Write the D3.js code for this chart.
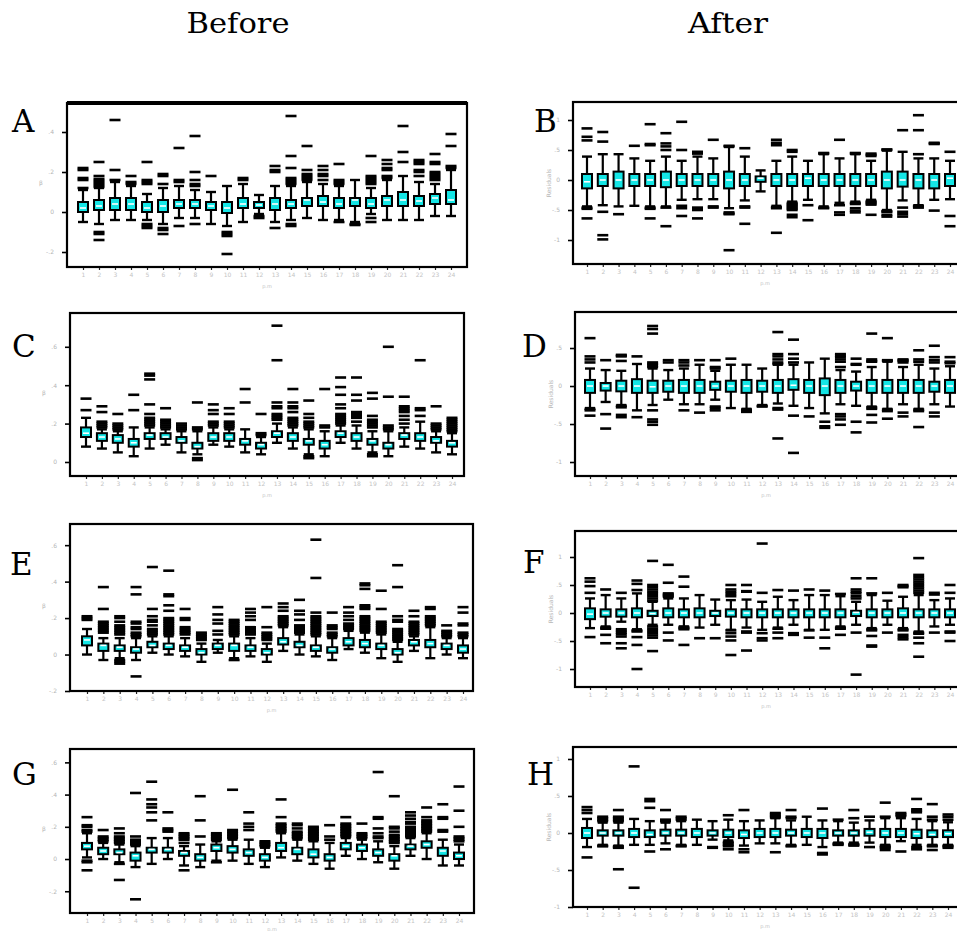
<!DOCTYPE html>
<html>
<head>
<meta charset="utf-8">
<script src="https://cdn.jsdelivr.net/npm/d3@7"></script>
<style>
  body { margin: 0; background: #fff; }
</style>
</head>
<body>
<div id="chart"></div>
<script>
// categories on the x axis (1..24)
const categories = d3.range(1, 25);

// each row: [lower whisker, q1, median, q3, upper whisker]
const boxA = [
  [-.05,0,.02,.05,.11],[-.06,.01,.03,.06,.12],[-.04,.01,.04,.07,.15],[-.04,.01,.04,.07,.13],
  [-.04,0,.02,.05,.09],[-.06,0,.03,.06,.12],[-.03,.02,.04,.06,.13],[-.03,.02,.04,.06,.11],
  [-.06,.01,.03,.05,.1],[-.07,-.005,.02,.05,.13],[-.05,.02,.04,.07,.14],[-.01,.02,.035,.05,.085],
  [-.05,.01,.04,.07,.13],[-.04,.02,.04,.06,.13],[-.03,.03,.06,.07,.15],[-.04,.03,.05,.08,.14],
  [-.04,.02,.04,.07,.13],[-.05,.03,.06,.07,.16],[-.01,.02,.04,.07,.12],[-.04,.03,.06,.08,.16],
  [-.04,.03,.06,.1,.18],[-.04,.03,.055,.08,.15],[-.02,.04,.07,.09,.14],[-.02,.04,.06,.11,.21]
];
const outA = [
  [.22,.21,.17,.16,.12],[.25,.18,.165,.155,.145,.135,.125,-.1,-.11,-.14],[.46,.21,.16],[.18,.15,.14],
  [.25,.16,.15,.14,-.06,-.07,-.08],[.19,.18,.14,-.08,-.09,-.11],[.32,.16,.15,-.07],[.38,.2,.16,.14,.13,-.06],
  [.18],[-.1,-.11,-.12,-.21],[.17,.16],[-.02,-.03],
  [.23,.21,.2,-.08],[.48,.28,.22,.17,.16,.15,.14,-.06,-.07],[.33,.21,.19,.18,.17,.16],[.23,.21,.19,.18,.16],
  [.24,.16,.15,.14,-.05],[-.06,-.065],[.28,.18,.17,.16,.15,.14,-.03,-.05],[.26,.24,.22,.21,.18,.17],
  [.43,.3,.25],[.26,.25,.24,.21,.2,.18],[.29,.25,.24,.2,.19,.18,.17,.16],[.39,.33,.23,.22]
];

const boxB = [
  [-.44,-.14,-.03,.1,.39],[-.42,-.1,0,.1,.43],[-.44,-.14,0,.14,.43],[-.43,-.1,0,.1,.36],
  [-.44,-.1,0,.1,.32],[-.44,-.12,0,.14,.39],[-.33,-.1,0,.1,.32],[-.32,-.1,0,.1,.39],
  [-.32,-.1,0,.1,.36],[-.47,-.14,0,.14,.55],[-.34,-.1,0,.1,.39],[-.19,-.03,.03,.06,.16],
  [-.43,-.1,0,.1,.32],[-.36,-.1,0,.1,.39],[-.33,-.1,.03,.1,.32],[-.44,-.1,0,.1,.43],
  [-.38,-.1,0,.1,.36],[-.36,-.1,0,.1,.43],[-.33,-.1,0,.1,.32],[-.5,-.14,0,.14,.49],
  [-.34,-.11,0,.14,.47],[-.42,-.14,0,.1,.36],[-.33,-.14,0,.1,.36],[-.32,-.1,.03,.1,.32]
];
const outB = [
  [.86,.72,.66,-.46,-.48,-.64],[.8,.64,-.53,-.92,-.99],[-.57],[.57],
  [.93,.6,.58,-.46,-.48,-.64],[.78,.61,.56,.5,-.46,-.77],[.97,.5,-.43,-.47,-.6],[.47,.44,-.46,-.48,-.5,-.64],
  [.67,-.44,-.46],[.57,.56,-.54,-.56,-.57,-1.17],[.53,-.44,-.46,-.73],[],
  [.67,.62,.58,-.45,-.47,-.88],[.5,.47,-.38,-.4,-.42,-.44,-.46,-.48,-.5,-.58,-.62],[-.42,-.67],[.44,.45,-.46,-.47],
  [.67,-.42,-.54,-.58],[.44,.45,-.38,-.4,-.47,-.51,-.54],[.42,.4,.44,-.35,-.37,-.39,-.41,-.58],[.5,.51,-.52,-.53,-.58,-.61],
  [.83,-.46,-.53,-.57,-.61],[1.08,.83,.43,-.43,-.44,-.46],[.61,.6,.62,-.51],[.47,-.6,-.77]
];

const boxC = [
  [.08,.13,.15,.18,.23],[.07,.11,.13,.15,.17],[.05,.1,.12,.14,.16],[.03,.08,.1,.12,.18],
  [.07,.12,.14,.15,.18],[.09,.12,.13,.15,.17],[.05,.1,.11,.13,.16],[.04,.07,.08,.1,.16],
  [.09,.11,.13,.15,.18],[.08,.11,.13,.15,.17],[.05,.09,.11,.12,.17],[.04,.07,.09,.1,.13],
  [.1,.13,.15,.16,.2],[.07,.11,.13,.15,.18],[.04,.09,.11,.12,.17],[.03,.07,.09,.11,.16],
  [.1,.13,.15,.16,.19],[.07,.11,.13,.15,.19],[.05,.09,.11,.12,.16],[.03,.07,.09,.1,.16],
  [.08,.12,.14,.15,.18],[.07,.11,.13,.15,.21],[.05,.1,.11,.13,.16],[.04,.08,.1,.11,.15]
];
const outC = [
  [.33,.27],[.29,.26,.21,.2,.19,.18],[.25,.2,.19,.18,.17],[.35,.27],
  [.46,.45,.43,.3,.25,.23,.22,.21,.2,.19],[.28,.22,.21,.2,.19,.18],[.2,.19,.18,.17],[.31,.18,.17,.02,.01],
  [.3,.27,.25,.21,.2,.19],[.28,.25,.21,.2,.19,.18],[.38,.31],[.25,.15,.14],
  [.71,.53,.31,.29,.28,.25,.24,.23,.22],[.38,.31,.29,.28,.26,.23,.22,.21,.2,.19],[.32,.25,.23,.21,.2,.19,.18,.03,.02],[.38,.19,.18],
  [.44,.39,.35,.3,.28,.25,.24,.23,.22,.21,.2],[.44,.35,.32,.26,.25,.24,.23,.21],[.36,.33,.24,.22,.21,.2,.19,.18,.04,.03],[.6,.34,.19,.18,.17],
  [.34,.29,.28,.27,.26,.24,.22,.2],[.53,.28,.27,.24],[.29,.2,.19,.18,.17],[.23,.22,.21,.2,.19,.18,.17,.16]
];

const boxD = [
  [-.29,-.09,0,.08,.23],[-.21,-.06,0,.04,.21],[-.25,-.07,0,.07,.2],[-.32,-.09,0,.09,.29],
  [-.25,-.09,-.01,.07,.23],[-.18,-.075,0,.07,.21],[-.24,-.09,0,.08,.23],[-.24,-.09,0,.08,.28],
  [-.18,-.05,0,.057,.2],[-.29,-.075,0,.07,.28],[-.3,-.09,0,.08,.28],[-.25,-.075,0,.07,.23],
  [-.23,-.09,0,.08,.28],[-.26,-.05,.01,.09,.28],[-.29,-.09,0,.08,.31],[-.36,-.12,0,.1,.36],
  [-.24,-.09,0,.08,.21],[-.26,-.06,0,.057,.19],[-.27,-.09,0,.08,.25],[-.3,-.09,0,.08,.32],
  [-.24,-.09,0,.08,.25],[-.3,-.09,0,.08,.28],[-.24,-.075,0,.057,.23],[-.27,-.09,0,.08,.26]
];
const outD = [
  [.63,.39,.35,.31,-.3,-.32,-.39],[.34,-.37,-.56],[.41,.4,.39,.33,-.26,-.28,-.38,-.41],[.39,-.41],
  [.79,.75,.69,.31,.29,.27,.25,-.32,-.44,-.47,-.51],[.34,.31],[.34,.31,.27,-.32],[.34,-.35],
  [.34,.25,.23,-.27,-.29,-.32],[.36],[-.31,-.33,-.34],[-.26,-.27],
  [.71,.42,.39,.35,.31,.29,-.29,-.31,-.69],[.61,.42,.36,.31,-.39,-.88],[-.4],[-.47,-.53,-.55],
  [.42,.4,.38,.35,.32,.25,-.37,-.4,-.44,-.51],[.36,.29,.28,-.47,-.61],[.69,.35,.33,.32,-.28,-.3,-.38,-.48],[.63,.33,.34,-.31,-.33,-.43],
  [.35,.34,.33,.31,-.35,-.4],[.47,.35,.32,-.31,-.33,-.54],[.53,.38,.34,.31,-.35,-.4],[.38,.32,.3]
];

const boxE = [
  [0,.05,.08,.1,.14],[-.03,.02,.05,.06,.09],[-.02,.02,.04,.05,.09],[-.03,.01,.03,.04,.09],
  [.01,.04,.05,.07,.1],[0,.03,.05,.06,.1],[-.01,.02,.04,.05,.09],[-.04,0,.01,.03,.06],
  [.01,.03,.05,.06,.08],[-.02,.02,.05,.06,.1],[-.01,.02,.04,.05,.09],[-.04,0,.01,.03,.06],
  [.02,.055,.07,.09,.15],[0,.04,.05,.07,.11],[-.01,.02,.04,.05,.1],[-.03,.01,.03,.04,.09],
  [.03,.05,.07,.09,.13],[.01,.04,.06,.08,.12],[-.02,.03,.05,.06,.11],[-.04,0,.01,.03,.07],
  [.02,.05,.07,.08,.1],[-.02,.04,.06,.08,.15],[0,.03,.05,.06,.09],[-.02,.01,.03,.05,.09]
];
const outE = [
  [.21,.2,.19],[.37,.25,.18,.17,.16,.15,.14,.13,.12],[.21,.2,.18,.16,.15,.14,.13,.12,.11,-.03,-.04,-.05],[.37,.33,.18,.17,.15,.14,.12,.11,.1,-.12],
  [.48,.25,.21,.19,.18,.16,.14,.13,.12,.11],[.46,.33,.32,.27,.24,.2,.19,.18,.17,.16,.15,.14,.13,.12,.11],[.25,.2,.19,.15,.14,.13,.12,.11],[.12,.11,.1,.09,.08],
  [.26,.22,.19,.17,.13,.11],[.19,.18,.17,.16,.15,.14,.13,.12,.11,-.03],[.25,.23,.21,.19,.15,.14,.13,.12,.11],[.26,.15,.12,.11,.1,.09,.08],
  [.28,.26,.24,.21,.2,.19,.18,.17,.16],[.3,.24,.22,.19,.16,.15,.14,.13,.12],[.63,.42,.23,.21,.2,.19,.18,.17,.16,.15,.14,.13,.12,.11],[.23,.16,.15,.14,.12,.11,.1],
  [.26,.23,.21,.19,.17,.16,.15,.14],[.39,.38,.36,.27,.26,.25,.21,.2,.19,.18,.17,.16,.15,.14,.13],[.35,.25,.18,.17,.16,.15,.14,.13,.12],[.49,.37,.21,.19,.18,.14,.13,.12,.11,.1,.09,.08],
  [.24,.21,.18,.17,.16,.15,.14,.13,.12,.11],[.26,.25,.21,.2,.19,.18,.17,.16],[.16,.13,.12,.11,.1],[.26,.23,.17,.16,.12,.11,.1]
];

const boxF = [
  [-.27,-.11,-.02,.083,.26],[-.24,-.065,0,.065,.32],[-.155,-.065,0,.065,.26],[-.29,-.077,0,.083,.35],
  [-.21,-.054,-.01,.04,.2],[-.21,-.077,0,.083,.26],[-.24,-.077,0,.065,.26],[-.26,-.077,0,.083,.32],
  [-.21,-.054,0,.04,.24],[-.3,-.065,0,.065,.23],[-.26,-.077,0,.065,.24],[-.3,-.077,0,.065,.2],
  [-.26,-.077,0,.065,.29],[-.21,-.077,0,.065,.23],[-.3,-.077,0,.065,.32],[-.3,-.077,0,.065,.32],
  [-.24,-.077,0,.065,.3],[-.21,-.054,.01,.04,.2],[-.27,-.077,0,.065,.32],[-.21,-.077,0,.065,.22],
  [-.27,-.077,0,.083,.29],[-.33,-.077,0,.065,.32],[-.24,-.077,0,.065,.23],[-.21,-.077,0,.065,.26]
];
const outF = [
  [.62,.56,.48,.36,-.43],[.42,-.26,-.28,-.39,-.54],[.36,-.29,-.32,-.35,-.38,-.42,-.54,-.63],[.58,.52,.41,-.31,-.33,-.43,-.57,-1.0],
  [.93,.5,.46,.42,.38,.34,.3,.26,.22,-.24,-.28,-.32,-.36,-.4,-.44,-.68],[.86,.54,.35,.33,.31,.29,-.35,-.49],[.65,.47,-.25,-.27,-.29,-.57],[-.45],
  [-.45],[.5,.42,.38,.34,.3,-.31,-.36,-.42,-.49,-.75],[.5,.39,.38,-.33,-.35,-.67],[1.24,.36,-.36,-.45,-.49],
  [.41,-.28,-.35,-.45],[.4,-.36,-.39],[.42,-.31,-.44],[.4,-.44,-.63],
  [.34,-.26,-.28,-.39],[.62,.42,.38,.35,.3,.26,-.35,-1.1],[.62,.35,-.29,-.31,-.41,-.58,-.6],[.36,-.35],
  [.5,.48,.46,-.29,-.31,-.39,-.43,-.47],[.98,.68,.64,.6,.56,.52,.48,.44,.4,.36,-.35,-.37,-.44,-.54,-.78],[.36,.33,-.35],[.5,.36,-.33,-.35,-.5]
];

const boxG = [
  [.01,.06,.08,.1,.16],[0,.03,.05,.07,.1],[-.02,.03,.04,.06,.09],[-.05,-.01,.02,.04,.08],
  [-.03,.04,.06,.07,.13],[0,.04,.06,.07,.13],[-.04,.02,.04,.05,.08],[-.05,-.01,.01,.03,.09],
  [-.01,.05,.07,.09,.11],[-.01,.04,.06,.08,.12],[-.03,.02,.04,.06,.12],[-.05,-.01,.01,.03,.07],
  [.01,.05,.07,.1,.16],[-.01,.03,.06,.07,.12],[-.03,.01,.03,.06,.11],[-.06,-.01,.01,.03,.1],
  [.02,.06,.08,.1,.13],[0,.05,.07,.09,.12],[-.02,.02,.04,.06,.11],[-.06,-.01,.02,.03,.08],
  [.02,.06,.08,.09,.13],[0,.07,.09,.11,.16],[-.04,.02,.05,.07,.12],[-.04,0,.02,.04,.09]
];
const outG = [
  [.26,.21,.2,.18,.17,-.01,-.02,-.07],[.18,.14,.13,.12,.11],[.19,.16,.14,.13,.12,.11,.1,-.03,-.13],[.41,.14,.12,.11,.1,.09,-.25],
  [.48,.37,.34,.32,.29,.24],[.29,.19,.18,.17],[.16,.15,.14,.13,.12,.1,-.07],[.39,.24,.14],
  [.16,.15,.14,.13,.12,-.02],[.43,.18,.17,.16,.15,.14,.13],[.29,.22,.2,.18],[.11,.1,.09,.08],
  [.37,.26,.22,.21,.2,.19,.18,.17],[.22,.21,.19,.17,.16,.15,.14,.13],[.2,.19,.18,.17,.16,.15,.14,.13,.12],[.21,.14,.12],
  [.26,.22,.21,.2,.19,.18,.17,.16,.15,.14],[.22,.16,.15,.14,.13],[.54,.26,.25,.19,.16,.14,.13],[.39,.2,.19,.17,.15,.14,.13,.12,.11,.1],
  [.29,.27,.25,.23,.22,.2,.19,.18,.17,.16,.15,.14],[.32,.26,.24,.23,.22,.21,.2,.19,.18,.17],[.34,.26,.25,.18,.17],[.45,.3,.2,.14,.13,.12,.11]
];

const boxH = [
  [-.19,-.068,0,.068,.19],[-.16,-.036,0,.036,.14],[-.17,-.036,0,.036,.14],[-.16,-.055,0,.055,.19],
  [-.16,-.055,-.02,.036,.16],[-.14,-.036,0,.045,.14],[-.16,-.036,0,.045,.16],[-.16,-.055,0,.055,.18],
  [-.09,-.036,0,.036,.16],[-.1,-.055,0,.045,.18],[-.17,-.068,-.02,.036,.16],[-.14,-.055,0,.055,.17],
  [-.14,-.055,0,.055,.2],[-.16,-.036,0,.045,.17],[-.16,-.055,0,.055,.22],[-.19,-.068,0,.055,.17],
  [-.13,-.036,0,.036,.16],[-.13,-.036,0,.036,.14],[-.13,-.036,.01,.055,.17],[-.16,-.055,0,.055,.2],
  [-.11,-.055,0,.055,.2],[-.16,-.068,-.01,.045,.19],[-.16,-.055,-.02,.036,.16],[-.16,-.055,-.01,.036,.145]
];
const outH = [
  [.35,.31,.27,-.33],[.22,.2,.18,.16,-.17,-.18],[.31,.22,.2,.18,.16,-.18,-.19,-.2,-.49],[.9,-.74],
  [.46,.43,.34,-.25],[.31,.18,.16,-.22],[.22,.2,.18,-.17,-.18],[],
  [-.19,-.2],[.24,-.12,-.14,-.16,-.18,-.22],[.31,-.22,-.26],[],
  [.27,.25,.23,.21,-.26],[.31,.22,.2,-.17,-.18],[],[.33,-.27,-.29],
  [.18,-.14,-.15,-.16],[.31,.2,-.15,-.16,-.17],[.22,-.19],[.41,.22,-.17,-.19,-.2,-.23],
  [.27,.25,.23,-.25],[.46,.32,.3,.28,-.19,-.22],[.39,.22,.18,-.17,-.18,-.23],[.25,.22,.18,-.17,-.18,-.2]
];

// y tick values per panel
const ticksA = [.4, .2, 0, -.2];
const ticksB = [1, .5, 0, -.5, -1];
const ticksC = [.6, .4, .2, 0];
const ticksD = [.5, 0, -.5, -1];
const ticksE = [.6, .4, .2, 0, -.2];
const ticksF = [1, .5, 0, -.5, -1];
const ticksG = [.6, .4, .2, 0, -.2];
const ticksH = [1, .5, 0, -.5, -1];

const columnTitles = ["Before", "After"];

/***********************
***** LAYOUT *****
***********************/
const width = 957, height = 931;
const svg = d3.select("#chart").append("svg")
    .attr("width", width)
    .attr("height", height);

// frame = [left, top, right, bottom]
const panels = [
  {letter: "A", box: boxA, out: outA, ticks: ticksA, frame: [67, 103, 467, 267], dom: [-.275, .545], xr: [83, 451], lx: 12, ly: 132, right: false},
  {letter: "B", box: boxB, out: outB, ticks: ticksB, frame: [573, 102, 975, 264], dom: [-1.4, 1.3], xr: [587, 950], lx: 534, ly: 132, right: true},
  {letter: "C", box: boxC, out: outC, ticks: ticksC, frame: [70, 313, 464, 476], dom: [-.073, .776], xr: [86, 452], lx: 12, ly: 357, right: false},
  {letter: "D", box: boxD, out: outD, ticks: ticksD, frame: [575, 312, 975, 476], dom: [-1.184, .974], xr: [590, 950], lx: 522, ly: 357, right: true},
  {letter: "E", box: boxE, out: outE, ticks: ticksE, frame: [70, 524, 473, 691], dom: [-.2, .716], xr: [87, 463], lx: 10, ly: 575, right: false},
  {letter: "F", box: boxF, out: outF, ticks: ticksF, frame: [575, 531, 975, 687], dom: [-1.321, 1.464], xr: [590, 950], lx: 523, ly: 573, right: true},
  {letter: "G", box: boxG, out: outG, ticks: ticksG, frame: [70, 749, 474, 913], dom: [-.335, .683], xr: [87, 459], lx: 12, ly: 785, right: false},
  {letter: "H", box: boxH, out: outH, ticks: ticksH, frame: [573, 747, 975, 907], dom: [-1.0, 1.162], xr: [587, 948], lx: 527, ly: 785, right: true}
];

const fmt = v => v === 0 ? "0" : String(v).replace("0.", ".");

const BOXW = 10;
const CYAN = "#14e6e6";

/*************************
***** COLUMN TITLES *****
*************************/
svg.selectAll(".colTitle")
    .data([{t: columnTitles[0], x: 238, w: 103}, {t: columnTitles[1], x: 728, w: 80}])
    .enter()
    .append("text")
    .attr("class", "colTitle")
    .attr("x", d => d.x)
    .attr("y", 33)
    .attr("text-anchor", "middle")
    .attr("textLength", d => d.w)
    .attr("lengthAdjust", "spacingAndGlyphs")
    .style("font-family", "DejaVu Serif")
    .style("font-size", "28px")
    .text(d => d.t);

/****************
***** PANELS *****
*****************/
panels.forEach(p => {
    const [fx0, fy0, fx1, fy1] = p.frame;
    const g = svg.append("g");

    const x = d3.scalePoint().domain(categories).range(p.xr);
    const y = d3.scaleLinear().domain(p.dom).range([fy1, fy0]);

    // panel letter
    g.append("text")
        .attr("x", p.lx)
        .attr("y", p.ly)
        .style("font-family", "DejaVu Serif")
        .style("font-size", "31px")
        .text(p.letter);

    // y axis
    const yAx = g.append("g")
        .attr("transform", `translate(${fx0}, 0)`)
        .call(d3.axisLeft(y).tickValues(p.ticks).tickSize(5).tickPadding(8).tickFormat(fmt));
    yAx.select(".domain").remove();
    yAx.selectAll("line").attr("stroke", "#000").attr("stroke-width", 1.6);
    yAx.selectAll("text").attr("fill", "#b5b5b5").style("font-size", "6px").style("font-family", "DejaVu Sans");

    // x axis
    const xAx = g.append("g")
        .attr("transform", `translate(0, ${fy1})`)
        .call(d3.axisBottom(x).tickSize(3).tickPadding(3));
    xAx.select(".domain").remove();
    xAx.selectAll("line").attr("stroke", "#222").attr("stroke-width", 1.2);
    xAx.selectAll("text").attr("fill", "#c4c4c4").style("font-size", "6px").style("font-family", "DejaVu Sans");

    // axis titles (tiny, light grey)
    g.append("text")
        .attr("x", (fx0 + Math.min(fx1, 957)) / 2)
        .attr("y", Math.min(fy1 + 21, 930.5))
        .attr("text-anchor", "middle")
        .attr("fill", "#c4c4c4")
        .style("font-size", "5px")
        .style("font-family", "DejaVu Sans")
        .text("p.m");

    const ylab = g.append("text")
        .attr("text-anchor", "middle")
        .attr("fill", "#b5b5b5")
        .style("font-size", "6px")
        .style("font-family", "DejaVu Sans");
    if (p.right) {
        ylab.attr("transform", `translate(${fx0 - 22}, ${(fy0 + fy1) / 2}) rotate(-90)`).text("Residuals");
    } else {
        ylab.attr("x", fx0 - 26).attr("y", (fy0 + fy1) / 2).text("β");
    }

    const rows = p.box.map((b, i) => ({cat: categories[i], lo: b[0], q1: b[1], med: b[2], q3: b[3], hi: b[4]}));
    const outs = [];
    p.out.forEach((arr, i) => arr.forEach(v => outs.push({cat: categories[i], v: v})));

    const plot = g.append("g");

    // whiskers
    plot.selectAll(".whisker")
        .data(rows)
        .enter()
        .append("line")
        .attr("x1", d => x(d.cat))
        .attr("x2", d => x(d.cat))
        .attr("y1", d => y(d.lo))
        .attr("y2", d => y(d.hi))
        .attr("stroke", "#000")
        .attr("stroke-width", 2.2);

    // whisker caps
    plot.selectAll(".cap")
        .data(rows.flatMap(d => [{cat: d.cat, v: d.lo}, {cat: d.cat, v: d.hi}]))
        .enter()
        .append("line")
        .attr("x1", d => x(d.cat) - BOXW / 2)
        .attr("x2", d => x(d.cat) + BOXW / 2)
        .attr("y1", d => y(d.v))
        .attr("y2", d => y(d.v))
        .attr("stroke", "#000")
        .attr("stroke-width", 2.4);

    // outliers
    plot.selectAll(".outlier")
        .data(outs)
        .enter()
        .append("line")
        .attr("x1", d => x(d.cat) - 5.5)
        .attr("x2", d => x(d.cat) + 5.5)
        .attr("y1", d => y(d.v))
        .attr("y2", d => y(d.v))
        .attr("stroke", "#000")
        .attr("stroke-width", 2.6);

    // boxes
    plot.selectAll(".box")
        .data(rows)
        .enter()
        .append("rect")
        .attr("x", d => x(d.cat) - BOXW / 2)
        .attr("y", d => y(d.q3))
        .attr("width", BOXW)
        .attr("height", d => Math.max(1, y(d.q1) - y(d.q3)))
        .attr("fill", CYAN)
        .attr("stroke", "#000")
        .attr("stroke-width", 2);

    // medians
    plot.selectAll(".median")
        .data(rows)
        .enter()
        .append("line")
        .attr("x1", d => x(d.cat) - 3)
        .attr("x2", d => x(d.cat) + 3)
        .attr("y1", d => y(d.med))
        .attr("y2", d => y(d.med))
        .attr("stroke", "#fff")
        .attr("stroke-width", 1.6);

    // frame
    g.append("rect")
        .attr("x", fx0)
        .attr("y", fy0)
        .attr("width", fx1 - fx0)
        .attr("height", fy1 - fy0)
        .attr("fill", "none")
        .attr("stroke", "#000")
        .attr("stroke-width", 2.2);

    if (p.letter === "A") {
        g.append("line")
            .attr("x1", fx0).attr("x2", fx1)
            .attr("y1", fy0).attr("y2", fy0)
            .attr("stroke", "#000")
            .attr("stroke-width", 4);
    }
});
</script>
</body>
</html>
